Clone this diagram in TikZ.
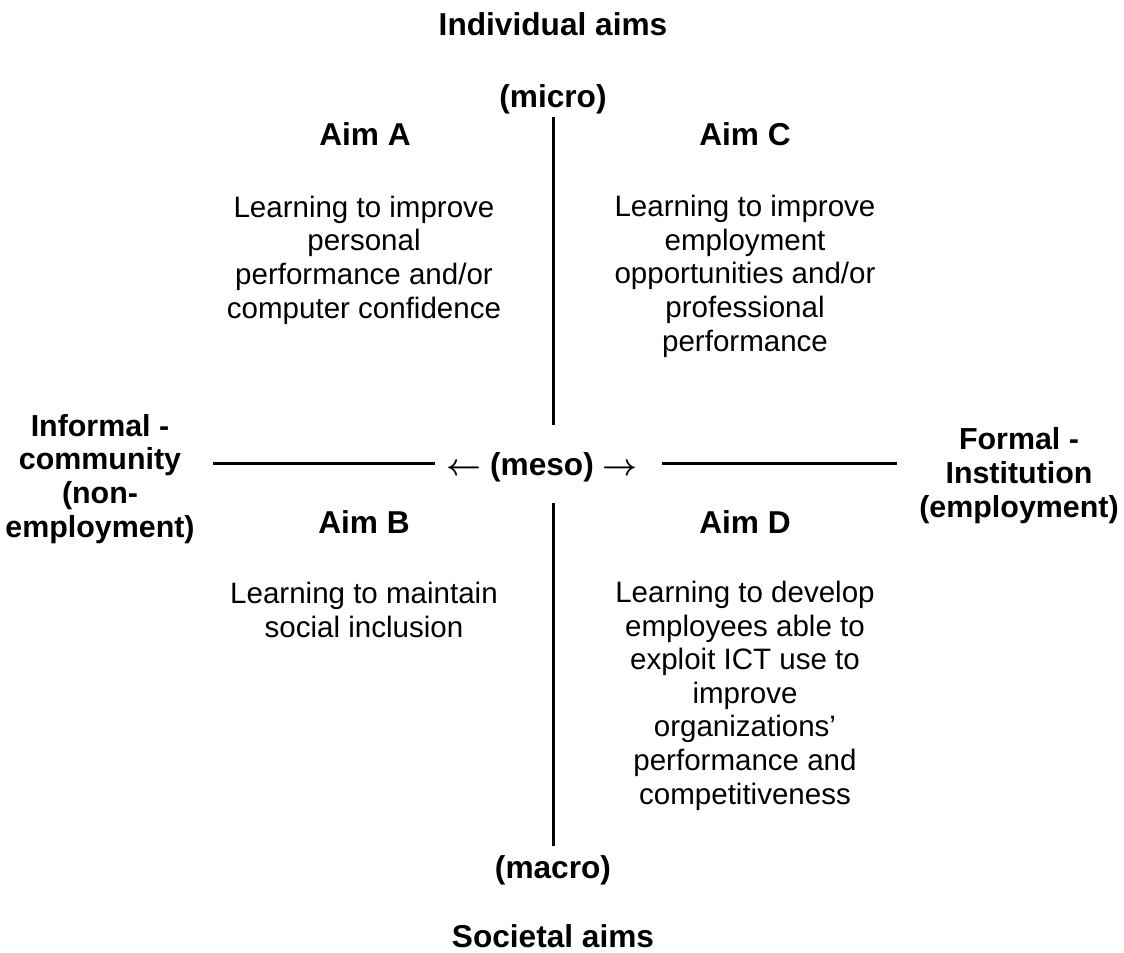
\documentclass[tikz,border=0pt]{standalone}
\usepackage{fontspec}
\setmainfont{Liberation Sans}
\begin{document}
\begin{tikzpicture}[x=.2mm,y=-.2mm,
                head/.style={font=\fontsize{18}{19.07}\selectfont\bfseries,align=center,inner sep=0,anchor=base},
                side/.style={head,font=\fontsize{17.3}{19.07}\selectfont\bfseries},
                body/.style={font=\fontsize{16.8}{19.07}\selectfont,align=center,inner sep=0,anchor=base},
                axis/.style={line width=.6mm}]
                \useasboundingbox (0,0) rectangle (1124,952);
                %=========================================== titles (base = last line)
                \node[head] (indiv) at (553,35) {Individual aims};
                \node[head] (micro) at (553,107) {(micro)};
                \node[head] (meso) at (542,475) {{\boldmath$\leftarrow$} (meso) {\boldmath$\rightarrow$}};
                \node[head] (macro) at (553,878) {(macro)};
                \node[head] (soc) at (553,947) {Societal aims};
                \node[side] (informal) at (100,537) {Informal -\\community\\(non-\\employment)};
                \node[side] (formal) at (1019,517) {Formal -\\Institution\\(employment)};
                %=========================================== aims
                \node[head] (aimA) at (365,145) {Aim A};
                \node[body] (txtA) at (364,318) {Learning to improve\\personal\\performance and/or\\computer confidence};
                \node[head] (aimC) at (745,145) {Aim C};
                \node[body] (txtC) at (745,351) {Learning to improve\\employment\\opportunities and/or\\professional\\performance};
                \node[head] (aimB) at (364,533) {Aim B};
                \node[body] (txtB) at (364,637) {Learning to maintain\\social inclusion};
                \node[head] (aimD) at (745,533) {Aim D};
                \node[body] (txtD) at (745,804) {Learning to develop\\employees able to\\exploit ICT use to\\improve\\organizations’\\performance and\\competitiveness};
                %=========================================== axes
                \coordinate (n1) at (553,117); \coordinate (n2) at (553,425);
                \coordinate (s1) at (553,503); \coordinate (s2) at (553,846);
                \coordinate (w1) at (213,463); \coordinate (w2) at (435,463);
                \coordinate (e1) at (662,463); \coordinate (e2) at (897,463);
                \draw[axis] (n1)--(n2) (s1)--(s2) (w1)--(w2) (e1)--(e2);
            \end{tikzpicture}
\end{document}
